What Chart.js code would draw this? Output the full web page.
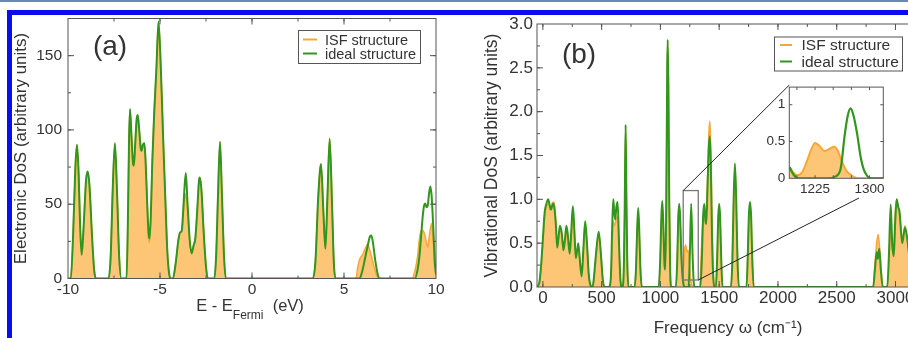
<!DOCTYPE html>
<html><head><meta charset="utf-8">
<script src="https://cdn.jsdelivr.net/npm/chart.js@4.4.1/dist/chart.umd.min.js"></script>
<style>
html,body{margin:0;padding:0;background:#fff;}
body{width:908px;height:338px;overflow:hidden;position:relative;}
canvas{position:absolute;}
.bar{position:absolute;}
</style></head><body>
<div class="bar" style="left:0;top:0;width:908px;height:2px;background:#6a87ad"></div>
<div class="bar" style="left:7px;top:10px;width:901px;height:5px;background:#0b0bf2"></div>
<div class="bar" style="left:7px;top:10px;width:5px;height:328px;background:#0b0bf2"></div>
<canvas id="ca" width="450" height="338" style="left:0;top:0"></canvas>
<canvas id="cb" width="470" height="338" style="left:450px;top:0"></canvas>
<canvas id="ci" width="150" height="130" style="left:740px;top:75px"></canvas>
<script>
// ---------- Panel (a): electronic DoS ----------
const eA = [-10,-9.85,-9.72,-9.6,-9.51,-9.42,-9.34,-9.26,-9.15,-9.02,-8.93,-8.83,-8.7,-8.58,-8.48,
  -7.8,-7.68,-7.57,-7.45,-7.34,-7.22,-7.1,
  -6.82,-6.75,-6.68,-6.63,-6.55,-6.47,-6.42,-6.35,-6.27,-6.21,-6.13,-6.05,-6.0,-5.93,-5.85,-5.78,-5.7,-5.62,-5.57,-5.5,-5.42,-5.31,-5.2,-5.08,-4.95,-4.83,-4.7,-4.6,-4.5,-4.42,
  -4.3,-4.15,-4.0,-3.91,-3.82,-3.72,-3.6,-3.5,-3.38,-3.28,-3.18,-3.08,-2.98,-2.88,-2.84,-2.75,-2.62,-2.5,-2.4,
  -2.05,-1.95,-1.85,-1.74,-1.63,-1.52,-1.42,
  3.3,3.45,3.6,3.75,3.88,3.99,4.1,4.22,4.35,4.45,4.55,
  5.65,5.75,5.85,5.95,6.05,6.15,6.29,6.4,6.47,6.55,6.7,6.85,6.95,
  8.7,8.85,9.0,9.1,9.2,9.28,9.35,9.42,9.48,9.55,9.62,9.69,9.76,9.85,9.93,10];
const idealA = [0,0,30,75,90,70,35,16,35,66,72,62,30,6,0,
  0,15,60,91,60,15,0,
  0,35,95,114,96,78,76,90,107,110,100,88,86,90,91,78,52,30,27,42,78,113,140,173,140,95,50,18,3,0,
  0,10,26,31,32,50,71,50,25,17,22,27,45,66,68,60,30,8,0,
  0,15,55,92,55,15,0,
  0,12,55,77,45,20,55,94,50,10,0,
  0,0,0,3,8,14,22,28,29,26,12,2,0,
  0,0,6,15,30,42,49,50.5,48,49,57,62,56,35,12,3];
const isfA = [0,0,30,75,90,70,35,16,35,66,72,62,30,6,0,
  0,15,60,91,60,15,0,
  0,35,95,114,96,78,76,90,107,110,100,88,86,90,91,78,52,28,24,40,78,113,140,173,140,95,50,18,3,0,
  0,10,26,31,32,45,57,45,25,17,22,27,45,66,68,60,30,8,0,
  0,15,55,92,55,15,0,
  0,12,55,77,45,20,55,94,50,10,0,
  0,8,13,15,17,20,23,19,16,12,5,0,0,
  0,5,15,27,32,32.5,31,28,24,21,27,33,37,25,8,2];
const ticksAX = [-10,-5,0,5,10];
const ticksAY = [0,50,100,150];

// ---------- Panel (b): vibrational DoS ----------
const wIdealB = [-50,-30,-15,0,15,30,45,58,68,78,88,98,110,122,132,145,160,175,188,200,212,228,240,255,268,280,290,301,315,330,345,360,375,390,405,420,430,450,475,495,510,525,
  560,578,590,599,608,616,626,636,648,660,672,
  678,690,697,704,711,718,728,
  780,792,802,811,820,830,842,
  985,998,1008,1016,1025,1035,1042,1050,1058,1062,1068,1075,1083,1092,
  1132,1143,1152,1160,1168,1177,1188,1195,1205,1240,1250,1262,1274,1285,1295,
  1340,1352,1363,1373,1383,1390,1400,1412,1421,1430,1440,1450,1460,
  1472,1482,1492,1500,1508,1518,1528,
  1600,1612,1623,1634,1645,1656,1668,
  1732,1742,1752,1762,1772,1782,1794,
  2810,2825,2840,2850,2862,2875,2892,
  2930,2945,2959,2972,2985,2998,3010,3022,3035,3057,3081,3100,3130,3160,3200];
const idealB = [0,0.05,0.25,0.55,0.85,0.95,1.0,0.93,0.88,0.92,0.95,0.9,0.72,0.45,0.55,0.7,0.62,0.42,0.55,0.7,0.6,0.38,0.6,0.92,0.65,0.33,0.4,0.5,0.3,0.12,0.45,0.75,0.5,0.15,0.02,0,0.05,0.35,0.63,0.35,0.08,0,
  0,0.1,0.7,1.0,0.85,0.77,0.92,0.97,0.5,0.08,0,
  0,0.3,1.0,1.85,1.0,0.3,0,
  0,0.2,0.65,0.9,0.65,0.2,0,
  0,0.3,0.8,0.98,0.7,0.25,0.2,1.0,2.5,2.82,2.3,1.0,0.2,0,
  0,0.3,0.8,0.95,0.8,0.4,0.12,0.04,0,0,0.35,0.95,0.35,0.03,0,
  0,0.3,0.8,0.95,0.75,0.72,1.1,1.6,1.72,1.3,0.5,0.1,0,
  0,0.3,0.8,0.95,0.8,0.3,0,
  0,0.3,1.0,1.41,1.0,0.3,0,
  0,0.3,0.8,0.97,0.8,0.3,0,
  0,0.2,0.4,0.32,0.44,0.2,0,
  0,0.4,0.94,0.5,0.35,0.75,1.0,0.92,0.85,0.5,0.68,0.55,0.2,0,0];
const wIsfB = [-50,-30,-15,0,15,30,45,58,68,78,88,98,110,122,132,145,160,175,188,200,212,228,240,255,268,280,290,301,315,330,345,360,375,390,405,420,430,450,475,495,510,525,
  560,578,590,599,608,616,626,636,648,660,672,
  678,690,697,704,711,718,728,
  780,792,802,811,820,830,842,
  985,998,1008,1016,1025,1035,1042,1050,1058,1062,1068,1075,1083,1092,
  1132,1143,1152,1160,1168,1177,1188,1198,1208,1215,1225,1235,1245,1255,1265,1275,
  1335,1345,1355,1370,1385,1400,1412,1421,1430,1440,1450,1460,
  1472,1482,1492,1500,1508,1518,1528,
  1600,1612,1623,1634,1645,1656,1668,
  1732,1742,1752,1762,1772,1782,1794,
  2810,2825,2840,2852,2865,2878,2892,
  2930,2945,2959,2972,2985,2998,3010,3022,3035,3057,3081,3100,3130,3160,3200];
const isfB = [0,0.05,0.22,0.5,0.8,0.92,0.95,0.93,0.92,0.95,0.97,0.95,0.75,0.5,0.55,0.65,0.6,0.45,0.5,0.62,0.55,0.42,0.55,0.8,0.6,0.4,0.42,0.45,0.3,0.15,0.4,0.7,0.5,0.15,0.02,0,0.05,0.3,0.6,0.35,0.08,0,
  0,0.08,0.5,0.75,0.7,0.72,0.78,0.8,0.4,0.06,0,
  0,0.3,0.95,1.8,0.95,0.3,0,
  0,0.2,0.6,0.85,0.6,0.2,0,
  0,0.25,0.7,0.9,0.65,0.25,0.2,1.0,2.45,2.78,2.25,1.0,0.2,0,
  0,0.28,0.75,0.9,0.75,0.4,0.15,0.25,0.45,0.48,0.4,0.42,0.3,0.12,0.03,0,
  0,0.3,0.62,0.8,0.8,1.2,1.75,1.89,1.5,0.7,0.15,0,
  0,0.28,0.75,0.9,0.75,0.28,0,
  0,0.3,0.95,1.35,0.95,0.3,0,
  0,0.28,0.75,0.9,0.75,0.28,0,
  0,0.25,0.5,0.6,0.45,0.2,0,
  0,0.3,0.7,0.4,0.45,0.85,1.0,0.92,0.82,0.55,0.7,0.55,0.2,0,0];
const ticksBX = [0,500,1000,1500,2000,2500,3000];
const ticksBY = [0,0.5,1.0,1.5,2.0,2.5,3.0];
const zoomW = [1194,1322];
const zoomV = [0.08,1.1];

// ---------- Inset ----------
const wIsfIn = [1190,1195,1200,1207,1214,1220,1225,1231,1238,1245,1251,1256,1260,1265,1269,1274,1278,1285,1320];
const isfIn = [0.15,0.08,0.04,0.08,0.24,0.4,0.48,0.44,0.37,0.4,0.43,0.38,0.28,0.16,0.09,0.05,0.02,0,0];
const wIdealIn = [1190,1194,1198,1202,1245,1252,1260,1266,1270,1274,1278,1283,1288,1292,1297,1302,1320];
const idealIn = [0.15,0.07,0.02,0,0,0.02,0.12,0.6,0.85,0.95,0.85,0.6,0.28,0.12,0.03,0,0];
const ticksInX = [1225,1300];
const ticksInY = [0,0.5,1];

const seriesLabels = ['ISF structure','ideal structure'];

// ---------- styling ----------
const FONT = '"Liberation Sans", Arial, Helvetica, sans-serif';
const TXT = '#333';
const ORANGE = 'rgb(245,168,55)';
const FILL = 'rgb(252,198,118)';
const GREEN = 'rgb(50,150,30)';

const pts = (xs, ys) => xs.map((x, i) => ({x, y: ys[i]}));

const framePlugin = {
  id: 'frameTicks',
  afterDatasetsDraw(chart, args, o) {
    const {ctx, chartArea: a, scales: {x, y}} = chart;
    ctx.save();
    ctx.strokeStyle = o.color;
    ctx.lineWidth = o.width || 1;
    ctx.strokeRect(a.left, a.top, a.right - a.left, a.bottom - a.top);
    const list = (scale, step) => {
      const out = [];
      if (!step) return out;
      const s = Math.ceil((scale.min - 1e-9) / step);
      for (let k = s; k * step <= scale.max + 1e-9; k++) out.push(scale.getPixelForValue(k * step));
      return out;
    };
    const drawX = (step, len) => list(x, step).forEach(p => {
      if (p <= a.left + 0.5 || p >= a.right - 0.5) return;
      ctx.beginPath();
      ctx.moveTo(p, a.bottom); ctx.lineTo(p, a.bottom - len);
      ctx.moveTo(p, a.top); ctx.lineTo(p, a.top + len);
      ctx.stroke();
    });
    const drawY = (step, len) => list(y, step).forEach(p => {
      if (p <= a.top + 0.5 || p >= a.bottom - 0.5) return;
      ctx.beginPath();
      ctx.moveTo(a.left, p); ctx.lineTo(a.left + len, p);
      ctx.moveTo(a.right, p); ctx.lineTo(a.right - len, p);
      ctx.stroke();
    });
    drawX(o.minorX, o.minorLen); drawY(o.minorY, o.minorLen);
    drawX(o.majorX, o.len); drawY(o.majorY, o.len);
    ctx.restore();
  }
};

const boxLegend = {
  id: 'boxLegend',
  afterDraw(chart, args, o) {
    if (!o || !o.w) return;
    const {ctx} = chart;
    ctx.save();
    ctx.fillStyle = '#fff';
    ctx.fillRect(o.x, o.y, o.w, o.h);
    ctx.strokeStyle = '#555'; ctx.lineWidth = 1;
    ctx.strokeRect(o.x + 0.5, o.y + 0.5, o.w, o.h);
    ctx.font = o.font; ctx.textBaseline = 'middle'; ctx.textAlign = 'left';
    chart.data.datasets.forEach((ds, i) => {
      const yy = o.y + o.rows[i];
      ctx.strokeStyle = ds.borderColor; ctx.lineWidth = 2;
      ctx.beginPath(); ctx.moveTo(o.x + o.s0, yy); ctx.lineTo(o.x + o.s1, yy); ctx.stroke();
      ctx.fillStyle = TXT;
      ctx.fillText(ds.label, o.x + o.tx, yy + 1);
    });
    ctx.restore();
  }
};

const annot = {
  id: 'annot',
  afterDraw(chart, args, o) {
    if (!o || !o.items) return;
    const {ctx} = chart;
    ctx.save();
    ctx.fillStyle = TXT; ctx.textBaseline = 'alphabetic';
    o.items.forEach(it => {
      if (it.segments) {
        let total = 0;
        it.segments.forEach(s => { ctx.font = s.font; total += ctx.measureText(s.text).width; });
        let xx = it.cx - total / 2;
        it.segments.forEach(s => {
          ctx.font = s.font; ctx.textAlign = 'left';
          ctx.fillText(s.text, xx, s.y);
          xx += ctx.measureText(s.text).width;
        });
      } else {
        ctx.font = it.font; ctx.textAlign = 'center'; ctx.textBaseline = 'middle';
        ctx.fillText(it.text, it.x, it.y);
        ctx.textBaseline = 'alphabetic';
      }
    });
    ctx.restore();
  }
};

const zoomBox = {
  id: 'zoomBox',
  afterDatasetsDraw(chart, args, o) {
    if (!o || !o.p1) return;
    const {ctx, scales: {x, y}} = chart;
    const x0 = x.getPixelForValue(zoomW[0]), x1 = x.getPixelForValue(zoomW[1]);
    const y0 = y.getPixelForValue(zoomV[1]), y1 = y.getPixelForValue(zoomV[0]);
    ctx.save();
    ctx.strokeStyle = '#777'; ctx.lineWidth = 1.3;
    ctx.strokeRect(x0, y0, x1 - x0, y1 - y0);
    ctx.strokeStyle = '#222'; ctx.lineWidth = 1;
    ctx.beginPath();
    ctx.moveTo(x0, y0); ctx.lineTo(o.p1[0], o.p1[1]);
    ctx.moveTo(x1, y1); ctx.lineTo(o.p2[0], o.p2[1]);
    ctx.stroke();
    ctx.restore();
  }
};

function axis(opts) {
  const s = {
    type: 'linear', min: opts.min, max: opts.max,
    grid: {display: false, drawTicks: false},
    border: {display: false},
    afterBuildTicks: sc => { sc.ticks = opts.ticks.map(v => ({value: v})); },
    afterFit: sc => { if (opts.w != null) sc.width = opts.w; if (opts.h != null) sc.height = opts.h; },
    ticks: {padding: opts.pad, font: {family: FONT, size: opts.size}, color: TXT,
      maxRotation: 0, autoSkip: false, callback: opts.fmt}
  };
  if (opts.title) s.title = opts.title;
  return s;
}

function datasets(xi, yi, xd, yd, wo, wg) {
  return [
    {label: seriesLabels[0], data: pts(xi, yi), borderColor: ORANGE, backgroundColor: FILL,
     fill: 'origin', borderWidth: wo, pointRadius: 0, cubicInterpolationMode: 'monotone', order: 2},
    {label: seriesLabels[1], data: pts(xd, yd), borderColor: GREEN, backgroundColor: GREEN,
     fill: false, borderWidth: wg, pointRadius: 0, cubicInterpolationMode: 'monotone', order: 1}
  ];
}

const common = {responsive: false, animation: false, devicePixelRatio: 1, events: []};

// Panel (a)
new Chart(document.getElementById('ca'), {
  type: 'line',
  data: {datasets: datasets(eA, isfA, eA, idealA, 1.5, 2)},
  plugins: [framePlugin, boxLegend, annot],
  options: Object.assign({}, common, {
    layout: {padding: {top: 18.5, right: 14, left: 0, bottom: 0}},
    scales: {
      x: axis({min: -10, max: 10, ticks: ticksAX, h: 59.5, pad: 2, size: 15.5, fmt: v => String(v)}),
      y: axis({min: 0, max: 175, ticks: ticksAY, w: 68, pad: 6, size: 15.5, fmt: v => String(v),
        title: {display: true, text: 'Electronic DoS (arbitrary units)', color: TXT,
          font: {family: FONT, size: 17, lineHeight: 1}, padding: {top: 13, bottom: 0}}})
    },
    plugins: {
      legend: {display: false}, tooltip: {enabled: false},
      frameTicks: {color: '#555', majorX: 5, minorX: 2.5, majorY: 50, minorY: 25, len: 6, minorLen: 3},
      boxLegend: {x: 298, y: 30, w: 122, h: 33, font: '14.5px ' + FONT, rows: [9.5, 23.5], s0: 5, s1: 19, tx: 27},
      annot: {items: [
        {text: '(a)', x: 110, y: 47, font: '28px ' + FONT},
        {cx: 250, segments: [
          {text: 'E - E', font: '16.5px ' + FONT, y: 311},
          {text: 'Fermi', font: '12px ' + FONT, y: 319},
          {text: '  (eV)', font: '16.5px ' + FONT, y: 311}
        ]}
      ]}
    }
  })
});

// Panel (b)
new Chart(document.getElementById('cb'), {
  type: 'line',
  data: {datasets: datasets(wIsfB, isfB, wIdealB, idealB, 1.5, 2)},
  plugins: [framePlugin, zoomBox, boxLegend, annot],
  options: Object.assign({}, common, {
    layout: {padding: {top: 24, right: 1, left: 0, bottom: 0}},
    scales: {
      x: axis({min: -50, max: 3200, ticks: ticksBX, h: 51, pad: 1, size: 17, fmt: v => String(v),
        title: {display: true, text: 'Frequency ω (cm⁻¹)', color: TXT,
          font: {family: FONT, size: 17, lineHeight: 1}, padding: {top: 0, bottom: 1}}}),
      y: axis({min: 0, max: 3, ticks: ticksBY, w: 87, pad: 4, size: 17, fmt: v => v.toFixed(1),
        title: {display: true, text: 'Vibrational DoS (arbitrary units)', color: TXT,
          font: {family: FONT, size: 17.5, lineHeight: 1}, padding: {top: 33, bottom: 0}}})
    },
    plugins: {
      legend: {display: false}, tooltip: {enabled: false},
      frameTicks: {color: '#555', majorX: 500, minorX: 250, majorY: 0.5, minorY: 0.25, len: 6, minorLen: 3},
      zoomBox: {p1: [339.3, 85], p2: [409, 198]},
      boxLegend: {x: 324, y: 36.5, w: 128, h: 34, font: '15.5px ' + FONT, rows: [8.5, 25], s0: 6, s1: 18, tx: 27.5},
      annot: {items: [{text: '(b)', x: 129, y: 55, font: '28px ' + FONT}]}
    }
  })
});

// Inset
new Chart(document.getElementById('ci'), {
  type: 'line',
  data: {datasets: datasets(wIsfIn, isfIn, wIdealIn, idealIn, 2, 2.2)},
  plugins: [framePlugin],
  options: Object.assign({}, common, {
    layout: {padding: {top: 10, right: 6.7, left: 0, bottom: 0}},
    scales: {
      x: axis({min: 1189.5, max: 1319, ticks: ticksInX, h: 26.7, pad: 2.5, size: 13.5, fmt: v => String(v)}),
      y: axis({min: 0, max: 1.24, ticks: ticksInY, w: 49.3, pad: 4, size: 13.5, fmt: v => String(v)})
    },
    plugins: {
      legend: {display: false}, tooltip: {enabled: false},
      frameTicks: {color: '#555', majorX: 25, minorX: 0, majorY: 0.5, minorY: 0, len: 3, minorLen: 0}
    }
  })
});
</script>
</body></html>
